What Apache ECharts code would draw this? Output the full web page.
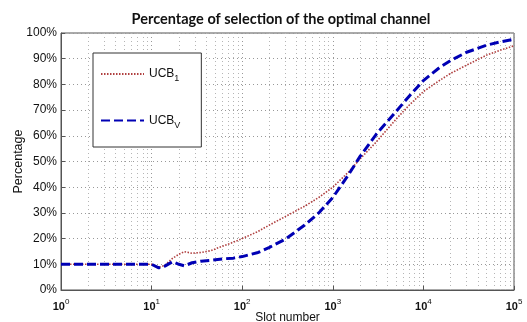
<!DOCTYPE html>
<html>
<head>
<meta charset="utf-8">
<script src="https://cdn.jsdelivr.net/npm/echarts@6/dist/echarts.min.js"></script>
<style>html,body{margin:0;padding:0;background:#fff;}#c{width:527px;height:322px;}</style>
</head>
<body>
<div id="c"></div>
<script>
const titleText = 'Percentage of selection of the optimal channel';
const xName = 'Slot number';
const yName = 'Percentage';
const slots = [1, 2, 5, 10, 12, 14, 17, 20, 23, 28, 35, 45, 60, 80, 100, 150, 200, 300, 500, 700, 1000, 1500, 2000, 3000, 5000, 7000, 10000, 15000, 20000, 30000, 50000, 70000, 100000];
const ucb1 = [10, 10, 10, 10, 8.8, 9.6, 12.3, 13.9, 14.9, 14.3, 14.6, 15.3, 17, 18.6, 20, 22.8, 25.3, 28.6, 32.8, 36, 40, 46, 51, 57.5, 66.5, 72, 77.2, 81.5, 84.3, 87.5, 91.4, 93.3, 95];
const ucbv = [10, 10, 10, 10, 8.6, 9.3, 11, 10, 9.4, 10.6, 11.2, 11.5, 12.1, 12.4, 13, 14.6, 16.6, 19.8, 25.5, 30, 36, 45, 52, 60.5, 69.5, 75.5, 81.5, 86.5, 89.3, 92.5, 95.3, 96.5, 97.6];
const yTicks = [0, 10, 20, 30, 40, 50, 60, 70, 80, 90, 100];
const seriesNames = ['UCB1', 'UCBV'];
const legendSubs = {UCB1: '1', UCBV: 'V'};

const minorVals = [];
for (let d = 1; d < 100000; d *= 10) {
  for (let k = 2; k <= 9; k++) minorVals.push(k * d);
}

const chart = echarts.init(document.getElementById('c'), null, {renderer: 'canvas'});
const font = 'Arial, "Liberation Sans", sans-serif';
chart.setOption({
  animation: false,
  backgroundColor: '#fff',
  title: {
    text: titleText,
    left: 276, textAlign: 'center', top: 7,
    textStyle: {fontFamily: 'Lato, "Open Sans", sans-serif', fontWeight: 'bold', fontSize: 14.5, color: '#111'}
  },
  grid: {left: 61, right: 13, top: 33, bottom: 32, show: true, borderColor: '#555', borderWidth: 1, containLabel: false, outerBoundsMode: 'none'},
  legend: {
    orient: 'vertical', left: 93, top: 53,
    padding: [15, 21, 17, 7], itemGap: 31, itemWidth: 43, itemHeight: 14,
    borderColor: '#333', borderWidth: 1, backgroundColor: '#fff',
    itemStyle: {opacity: 0},
    data: seriesNames,
    formatter: n => '{a|UCB}{s|' + legendSubs[n] + '}',
    textStyle: {
      fontFamily: font, color: '#111',
      rich: {a: {fontSize: 12, fontFamily: font, color: '#111'}, s: {fontSize: 9, fontFamily: font, color: '#111', padding: [10, 0, 0, 0]}}
    }
  },
  xAxis: {
    type: 'log', logBase: 10, min: 1, max: 100000,
    name: xName, nameLocation: 'middle', nameGap: 22, nameMoveOverlap: false,
    nameTextStyle: {fontFamily: font, fontSize: 12, color: '#111'},
    axisLine: {lineStyle: {color: '#555'}},
    axisTick: {inside: true, length: 4, lineStyle: {color: '#555'}},
    axisLabel: {
      margin: 5,
      formatter: v => '{b|10}{s|' + Math.round(Math.log10(v)) + '}',
      rich: {b: {fontSize: 11, fontFamily: font, color: '#111', fontWeight: 'bold', padding: [6, 0, 0, 0]}, s: {fontSize: 8, fontFamily: font, color: '#111', padding: [0, 0, 4, 0]}}
    },
    splitLine: {show: true, lineStyle: {type: [1, 3], color: '#999'}}
  },
  yAxis: {
    type: 'value', min: 0, max: 100, interval: 10,
    name: yName, nameLocation: 'middle', nameGap: 36, nameMoveOverlap: false,
    nameTextStyle: {fontFamily: font, fontSize: 12.5, color: '#111'},
    axisLine: {show: true, lineStyle: {color: '#555'}},
    axisTick: {show: true, inside: true, length: 4, lineStyle: {color: '#555'}},
    axisLabel: {formatter: '{value}%', fontFamily: font, fontSize: 12, color: '#111', margin: 4},
    splitLine: {show: true, lineStyle: {type: [1, 3], color: '#999'}}
  },
  series: [
    {
      name: seriesNames[0], type: 'line', symbol: 'none', z: 3,
      data: slots.map((s, i) => [s, ucb1[i]]),
      lineStyle: {color: '#b04040', width: 1.6, type: [1.5, 1.5]},
      itemStyle: {color: '#b04040'},
      markLine: {
        silent: true, symbol: 'none', label: {show: false}, animation: false, z: 1,
        lineStyle: {type: [1, 3], color: '#b5b5b5', width: 1},
        emphasis: {disabled: true},
        data: minorVals.map(v => ({xAxis: v}))
      }
    },
    {
      name: seriesNames[1], type: 'line', symbol: 'none', z: 4,
      data: slots.map((s, i) => [s, ucbv[i]]),
      lineStyle: {color: '#0000b4', width: 3, type: [9, 4]},
      itemStyle: {color: '#0000b4'}
    }
  ]
});
</script>
</body>
</html>
